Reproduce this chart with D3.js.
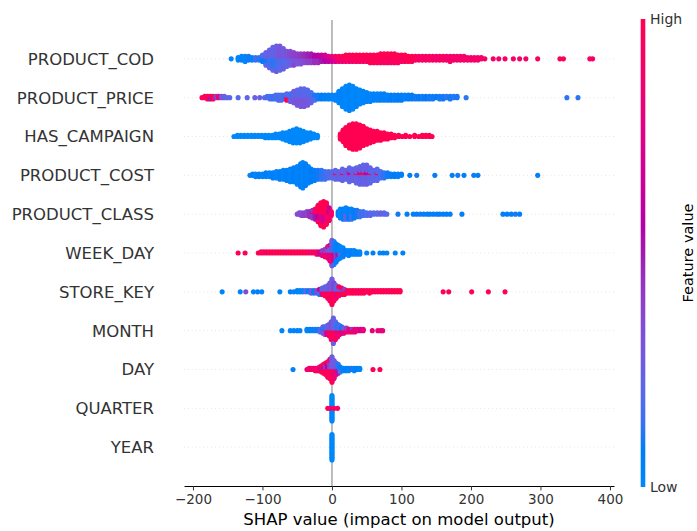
<!DOCTYPE html>
<html>
<head>
<meta charset="utf-8">
<script src="https://cdn.jsdelivr.net/npm/d3@7"></script>
<style>
body { margin: 0; background: #fff; }
text { font-family: "DejaVu Sans", sans-serif; }
</style>
</head>
<body>
<div id="chart"></div>
<script>
// feature names, top to bottom
const features = ['PRODUCT_COD', 'PRODUCT_PRICE', 'HAS_CAMPAIGN', 'PRODUCT_COST', 'PRODUCT_CLASS',
  'WEEK_DAY', 'STORE_KEY', 'MONTH', 'DAY', 'QUARTER', 'YEAR'];

const xTicks = [-200, -100, 0, 100, 200, 300, 400];

// each entry: [shap value, feature value (0 low .. 1 high), number of samples]
const productCod = [
  [-145,0.02,1],[-135,0.02,3],[-130,0.05,4],[-125,0.02,5],[-120,0.1,4],[-115,0.05,3],[-110,0.15,3],[-105,0.12,3],
  [-100,0.08,3],[-100,0.2,3],[-95,0.1,5],[-95,0.22,6],[-90,0.15,7],[-90,0.25,8],[-85,0.12,9],[-85,0.22,10],
  [-80,0.15,10],[-80,0.27,11],[-75,0.2,10],[-75,0.3,10],[-70,0.18,8],[-70,0.28,9],[-65,0.22,7],[-65,0.32,6],
  [-60,0.25,6],[-60,0.35,6],[-55,0.3,5],[-55,0.38,6],[-50,0.3,5],[-50,0.4,4],[-45,0.33,5],[-45,0.42,4],
  [-40,0.35,4],[-40,0.45,4],[-35,0.38,4],[-35,0.48,4],[-30,0.4,4],[-30,0.5,4],[-25,0.45,4],[-25,0.55,3],
  [-20,0.45,4],[-20,0.58,3],[-15,0.5,3],[-15,0.62,3],[-10,0.55,3],[-10,0.68,3],[-5,0.6,3],[-5,0.75,2],
  [0,0.65,3],[0,0.8,2],[5,0.75,3],[5,0.88,2],[10,0.85,3],[10,0.95,2],[15,0.85,3],[15,1,2],
  [20,0.9,3],[20,1,3],[25,0.88,3],[25,1,3],[30,0.92,3],[30,1,3],[35,0.9,3],[35,1,3],[40,0.92,3],[40,1,3],
  [45,0.95,3],[45,1,3],[50,0.92,3],[50,1,3],[55,0.92,3],[55,1,4],[60,0.95,3],[60,1,4],[65,0.92,3],[65,1,4],
  [70,0.92,4],[70,1,4],[75,0.95,4],[75,1,4],[80,0.92,4],[80,1,4],[85,0.95,4],[85,1,4],[90,0.92,4],[90,1,4],
  [95,0.95,3],[95,1,4],[100,0.92,3],[100,1,3],[105,0.95,3],[105,1,3],[110,0.9,2],[110,1,3],[115,0.9,2],[115,1,3],
  [120,0.9,2],[120,1,2],[125,0.9,4],[130,0.95,4],[135,0.88,4],[140,0.95,4],[145,0.9,4],[150,0.88,4],
  [155,0.9,4],[160,0.95,4],[165,0.88,4],[170,0.9,5],[175,0.88,4],[180,0.9,4],[185,0.88,4],[190,0.9,4],
  [195,0.88,3],[200,0.9,3],[205,0.88,3],[210,0.9,3],[215,0.88,2],[220,0.9,1],
  [232,0.9,1],[240,0.88,1],[249,0.9,1],[261,0.9,1],[270,0.88,1],[279,0.9,1],[296,0.95,1],
  [328,0.95,1],[333,1,1],[371,0.95,1],[375,0.9,1]
];

const productPrice = [
  [-187,1,1],[-183,0.9,2],[-179,1,3],[-175,0.5,2],[-175,1,1],[-171,1,3],[-167,0.4,2],[-163,0.85,2],
  [-159,0.3,2],[-155,0.25,2],[-151,0.2,1],[-147,0.22,1],[-135,0.2,1],[-122,0.22,1],[-111,0.25,1],[-104,0.25,1],
  [-97,0.2,1],[-93,0.15,2],[-89,0.2,3],[-85,0.12,3],[-81,0.2,4],[-77,0.15,5],[-73,0.2,5],[-69,0.15,4],
  [-65,1,3],[-65,0.2,3],[-60,0.28,4],[-60,0.15,3],[-55,0.28,6],[-55,0.2,4],[-50,0.3,7],[-50,0.22,6],
  [-45,0.28,8],[-45,0.2,7],[-40,0.3,8],[-40,0.22,7],[-35,0.28,7],[-35,0.2,6],[-30,0.25,5],[-30,0.18,4],
  [-25,0.18,3],[-25,0.1,2],[-20,0.1,4],[-15,0.08,4],[-10,0.05,4],[-5,0.05,4],[0,0.03,4],[5,0.03,5],
  [10,0.03,10],[15,0.03,15],[20,0,19],[25,0.03,21],[30,0,19],[35,0.03,15],[40,0,12],[45,0.03,10],
  [50,0.03,8],[55,0.03,7],[60,0.05,6],[65,0.03,6],[70,0.05,6],[75,0.05,6],[80,0.05,5],[85,0.08,5],
  [90,0.05,5],[95,0.08,5],[100,0.08,5],[105,0.05,4],[110,0.08,4],[115,0.08,4],[120,0.1,3],[125,0.08,3],
  [130,0.1,3],[135,0.08,3],[140,0.1,3],[145,0.1,3],[150,0.08,2],[155,0.1,3],[160,0.1,3],[165,0.12,2],
  [170,0.1,3],[175,0.12,2],[180,0.1,2],[193,0.12,1],[338,0.12,1],[354,0.12,1]
];

const hasCampaign = [
  [-141,0,1],[-136,0,2],[-131,0,2],[-126,0,2],[-121,0,2],[-116,0,2],[-111,0,2],[-106,0,2],[-101,0,2],
  [-96,0,3],[-91,0,3],[-86,0,3],[-81,0,4],[-76,0,4],[-71,0,6],[-66,0,7],[-61,0,9],[-56,0,11],[-51,0,12],
  [-46,0,11],[-41,0,9],[-36,0,7],[-31,0,6],[-26,0,4],[-21,0,3],
  [12,1,5],[16,1,10],[20,1,15],[25,1,19],[30,1,21],[35,1,21],[40,1,19],[45,1,16],[50,1,13],[55,1,11],
  [60,1,9],[65,1,8],[70,1,7],[75,1,6],[80,1,5],[85,1,4],[90,1,3],[96,1,2],[101,1,1],[106,1,2],[112,1,1],
  [119,1,2],[125,1,1],[130,1,2],[135,1,2],[140,1,2],[144,1,1]
];

const productCost = [
  [-118,0.03,1],[-114,0.06,2],[-110,0.03,3],[-105,0.06,3],[-100,0.03,3],[-95,0.06,4],[-90,0.03,4],[-85,0.06,5],
  [-80,0.03,6],[-75,0.06,7],[-70,0.03,8],[-65,0.06,9],[-60,0.03,11],[-55,0.06,12],[-50,0.03,15],[-45,0.06,19],
  [-42,0.03,21],[-38,0.06,18],[-34,0.03,14],[-30,0.08,11],[-25,0.06,9],[-20,0.1,8],[-15,0.12,8],[-10,0.15,7],
  [-5,0.18,6],[0,0.2,6],[5,0.22,6],[5,0.8,2],[10,0.25,7],[15,0.22,8],[15,0.9,2],[20,0.25,8],[25,0.22,9],[25,0.7,3],
  [30,0.25,10],[35,0.22,11],[35,1,2],[40,0.25,12],[40,0.75,3],[45,0.22,13],[45,1,3],[50,0.25,13],[50,0.6,3],
  [55,0.22,11],[55,0.9,2],[60,0.22,9],[65,0.2,8],[65,0.85,2],[70,0.18,6],[75,0.12,5],[80,0.1,4],[85,0.06,3],
  [90,0.08,3],[95,0.06,3],[100,0.06,2],[112,0.08,1],[122,0.1,1],[148,0.06,1],[173,0.06,1],[181,0.1,1],
  [190,0.06,1],[204,0.1,1],[210,0.06,1],[296,0.06,1]
];

const productClass = [
  [-50,0.35,1],[-47,0.32,2],[-44,0.35,3],[-40,0.4,3],[-36,0.38,4],[-32,0.45,5],[-28,0.42,5],[-28,0.75,2],
  [-24,0.5,5],[-24,0.9,4],[-20,0.6,6],[-20,1,8],[-16,0.75,8],[-16,1,11],[-12,0.7,9],[-12,1,12],
  [-8,0.85,8],[-8,1,10],[-4,0.9,6],[-4,0.65,5],[-1,0.9,4],
  [9,0.06,4],[12,0.03,8],[16,0.06,9],[20,0.22,5],[20,0.03,5],[24,0.06,9],[28,0.15,5],[28,0.03,4],[32,0.06,7],
  [36,0.1,6],[40,0.15,5],[45,0.15,4],[50,0.18,3],[55,0.22,3],[60,0.18,2],[65,0.22,2],[70,0.25,2],[75,0.2,2],
  [79,0.22,1],[95,0.1,1],[108,0.06,1],[117,0.06,1],[122,0.06,1],[127,0.1,1],[132,0.06,1],[137,0.06,1],
  [141,0.06,1],[146,0.06,1],[151,0.06,1],[155,0.06,1],[160,0.06,1],[165,0.06,1],[170,0.06,1],[187,0.06,1],
  [246,0.06,1],[252,0.06,1],[258,0.06,1],[264,0.1,1],[270,0.06,1]
];

const weekDay = [
  [-135,1,1],[-125,1,1],[-106,1,1],[-102,1,2],[-98,1,2],[-94,0.9,2],[-90,1,2],[-86,1,2],[-82,0.95,2],
  [-78,1,2],[-74,1,2],[-70,1,2],[-66,0.9,2],[-62,1,2],[-58,1,2],[-54,1,2],[-50,0.95,2],[-46,1,2],[-42,1,2],
  [-38,1,2],[-34,0.9,2],[-30,1,2],[-26,0.8,2],[-22,1,3],[-18,0.65,3],
  [-14,0.8,3],[-14,0.4,2],[-10,0.85,4],[-10,0.4,3],[-6,0.9,6],[-6,0.3,4],[-3,0.75,8],[-3,0.22,5],
  [0,0.9,10],[0,0.28,11],[3,0.65,9],[3,0.12,10],[6,0.4,7],[6,0.05,8],[9,0.5,5],[9,0.05,7],[12,0.2,4],[12,0.03,6],
  [16,0.1,4],[16,0.03,4],[20,0.06,4],[24,0.03,5],[28,0.06,4],[32,0.03,4],[36,0.06,3],[40,0.03,3],
  [50,0.03,1],[59,0.06,1],[69,0.03,1],[74,0.06,1],[79,0.03,1],[91,0.03,1],[102,0.06,1]
];

const storeKey = [
  [-158,0.03,1],[-132,0.03,1],[-124,0.35,1],[-113,0.03,1],[-107,0.06,1],[-101,0.03,1],[-75,0.03,1],
  [-60,0.06,1],[-55,0.03,1],[-50,0.06,2],[-46,0.03,2],[-42,0.03,2],[-38,0.2,2],[-34,0.06,2],[-30,0.28,3],
  [-26,0.06,3],[-22,0.35,3],[-18,0.12,3],[-18,0.65,2],
  [-14,0.8,3],[-14,0.2,3],[-10,1,4],[-10,0.28,4],[-6,0.9,6],[-6,0.2,5],[-3,1,8],[-3,0.32,7],
  [0,0.95,11],[0,0.25,10],[3,1,8],[3,0.38,7],[6,0.85,6],[6,0.2,5],[10,1,5],[10,0.3,3],[14,0.9,4],[14,0.12,2],
  [18,1,3],[18,0.4,2],[22,1,3],[26,0.95,3],[30,1,3],[34,1,3],[38,0.9,3],[42,1,3],[46,1,3],[50,0.95,2],
  [54,1,3],[58,1,2],[62,0.9,2],[66,1,2],[70,1,2],[74,1,2],[78,0.95,2],[82,1,2],[86,1,2],[90,1,2],[94,1,2],
  [98,1,2],[160,1,1],[168,1,1],[201,1,1],[225,1,1],[249,1,1]
];

const month = [
  [-72,0.03,1],[-60,0.03,1],[-55,0.03,1],[-50,0.06,1],[-46,0.03,1],[-36,0.03,2],[-32,0.06,2],[-28,0.03,2],
  [-24,0.1,2],[-20,0.06,2],[-17,0.2,3],[-13,0.28,4],[-13,0.06,2],[-10,0.35,4],[-10,0.12,3],
  [-7,0.75,4],[-7,0.2,4],[-4,0.9,5],[-4,0.28,5],[-1,1,8],[-1,0.32,7],[2,0.9,10],[2,0.25,11],[5,1,8],[5,0.2,7],
  [8,0.8,6],[8,0.12,5],[11,0.9,4],[11,0.2,4],[14,0.7,3],[14,0.06,3],[17,0.8,3],[17,0.3,2],
  [21,0.9,2],[21,0.4,2],[25,0.8,3],[29,0.9,2],[29,0.4,1],[33,0.8,3],[37,0.85,2],[41,0.7,2],[45,0.8,2],
  [58,0.8,1],[66,0.8,1],[70,0.85,1],[73,0.8,1]
];

const day = [
  [-56,0.03,1],[-36,0.8,1],[-33,1,2],[-30,0.75,2],[-27,1,2],[-24,0.85,3],[-21,1,3],[-18,0.8,4],
  [-15,1,4],[-15,0.5,2],[-12,1,5],[-12,0.5,3],[-9,0.9,6],[-9,0.4,4],[-6,1,8],[-6,0.6,5],[-3,0.95,10],
  [-3,0.38,6],[0,1,11],[0,0.28,10],[3,0.8,8],[3,0.25,7],[6,0.9,5],[6,0.28,5],[9,0.5,4],[9,0.12,4],
  [12,0.2,3],[12,0.06,2],[16,0.03,3],[20,0.06,3],[24,0.03,3],[28,0.1,2],[32,0.03,3],[36,0.06,2],[40,0.03,2],
  [59,1,1],[69,1,1]
];

const quarter = [
  [0,1,2],[0,0,19],[-6,1,1],[-3,0.85,1],[3,1,1],[8,0.9,1]
];

const year = [
  [0,0,21]
];

const rows = [productCod, productPrice, hasCampaign, productCost, productClass,
  weekDay, storeKey, month, day, quarter, year];

// layout
const width = 697;
const height = 531;
const axLeft = 184, axRight = 614, axTop = 20, axBottom = 486;
const dotRadius = 2.55;
const axisColor = '#333333';
const font = '"DejaVu Sans", sans-serif';

const xScale = d3.scaleLinear()
  .domain([-212.9, 405.8])
  .range([axLeft, axRight]);

// rows are numbered from the bottom like matplotlib (YEAR = 0)
const yScale = d3.scaleLinear()
  .domain([-1, features.length])
  .range([axBottom, axTop]);

// shap red_blue colour map, interpolated in LCh
const cmap = t => d3.hcl(266.93 + 113.39 * t, 70 + 20 * t, t < 0.5 ? 54 - 28 * t : 40 + 28 * (t - 0.5)).formatHex();

// stack samples sharing a shap value upward and downward like shap does
const swarm = (data) => {
  const cols = d3.group(data, d => d[0]);
  const pts = [];
  let kmax = 0;
  for (const [x, trips] of cols) {
    const queues = trips.map(t => ({c: t[1], left: t[2]}));
    let layer = 0, more = true;
    while (more) {
      more = false;
      queues.forEach(q => {
        if (q.left > 0) {
          q.left--;
          more = true;
          const k = Math.ceil(layer / 2) * ((layer % 2) * 2 - 1);
          kmax = Math.max(kmax, k);
          pts.push({x: x, c: q.c, k: k});
          layer++;
        }
      });
    }
  }
  const s = 0.9 * 0.4 / (kmax + 1);
  pts.forEach(p => p.dy = p.k * s);
  return pts;
};

const svg = d3.select('#chart')
  .append('svg')
    .attr('width', width)
    .attr('height', height);

svg.append('rect')
  .attr('width', width)
  .attr('height', height)
  .attr('fill', '#fff');

// dotted row lines
features.forEach((f, i) => {
  const pos = features.length - 1 - i;
  svg.append('line')
    .attr('x1', axLeft).attr('x2', axRight)
    .attr('y1', yScale(pos)).attr('y2', yScale(pos))
    .attr('stroke', '#cccccc')
    .attr('stroke-width', 0.7)
    .attr('stroke-dasharray', '0.7,3.2');
});

// zero line
svg.append('line')
  .attr('x1', xScale(0)).attr('x2', xScale(0))
  .attr('y1', axTop).attr('y2', axBottom)
  .attr('stroke', '#999999')
  .attr('stroke-width', 1.3);

// dots, bottom feature first
for (let i = features.length - 1; i >= 0; i--) {
  const pos = features.length - 1 - i;
  const pts = swarm(rows[i]);
  svg.append('g')
    .selectAll('circle')
    .data(pts)
    .join('circle')
      .attr('cx', d => xScale(d.x))
      .attr('cy', d => yScale(pos + d.dy))
      .attr('r', dotRadius)
      .attr('fill', d => cmap(d.c));
}

// feature labels
svg.append('g')
  .selectAll('text')
  .data(features)
  .join('text')
    .attr('x', 154)
    .attr('y', (d, i) => yScale(features.length - 1 - i))
    .attr('dy', '0.36em')
    .attr('text-anchor', 'end')
    .style('font-size', '16.5px')
    .attr('fill', axisColor)
    .text(d => d);

// x axis
const xAxis = svg.append('g')
  .attr('transform', `translate(0, ${axBottom})`)
  .call(d3.axisBottom(xScale).tickValues(xTicks).tickSize(4.4).tickPadding(4.4).tickSizeOuter(0));

xAxis.select('.domain').attr('stroke', '#000').attr('stroke-width', 1);
xAxis.selectAll('.tick line').attr('stroke', axisColor);
xAxis.selectAll('.tick text')
  .attr('fill', axisColor)
  .style('font-family', font)
  .style('font-size', '13.5px');

svg.append('text')
  .attr('x', (axLeft + axRight) / 2)
  .attr('y', 525)
  .attr('text-anchor', 'middle')
  .style('font-size', '16.5px')
  .attr('fill', '#000')
  .text('SHAP value (impact on model output)');

// colour bar
const grad = svg.append('defs').append('linearGradient')
  .attr('id', 'cbar')
  .attr('x1', 0).attr('y1', 1).attr('x2', 0).attr('y2', 0);
d3.range(0, 1.0001, 0.02).forEach(t => {
  grad.append('stop').attr('offset', t).attr('stop-color', cmap(t));
});

const cbTop = 19, cbBottom = 487;
svg.append('rect')
  .attr('x', 640.7)
  .attr('y', cbTop)
  .attr('width', 4.6)
  .attr('height', cbBottom - cbTop)
  .attr('fill', 'url(#cbar)');

svg.append('text')
  .attr('x', 650).attr('y', cbTop)
  .attr('dy', '0.36em')
  .style('font-size', '14px')
  .attr('fill', axisColor)
  .text('High');

svg.append('text')
  .attr('x', 650).attr('y', cbBottom)
  .attr('dy', '0.36em')
  .style('font-size', '14px')
  .attr('fill', axisColor)
  .text('Low');

svg.append('text')
  .attr('transform', `translate(693, ${(cbTop + cbBottom) / 2}) rotate(-90)`)
  .attr('text-anchor', 'middle')
  .style('font-size', '14.5px')
  .attr('fill', '#000')
  .text('Feature value');
</script>
</body>
</html>
